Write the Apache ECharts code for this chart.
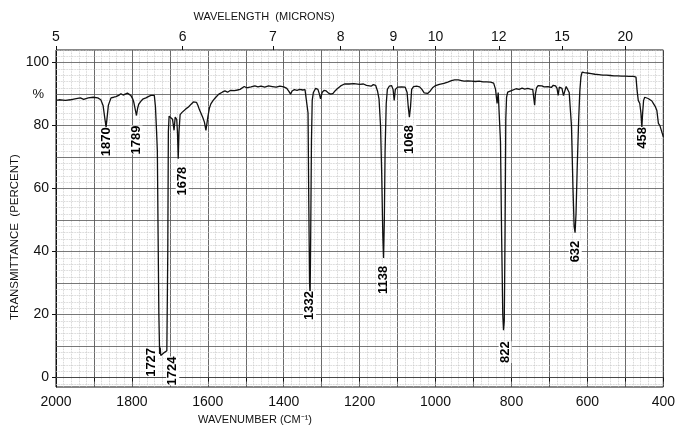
<!DOCTYPE html>
<html><head><meta charset="utf-8">
<script src="https://cdn.jsdelivr.net/npm/echarts@6/dist/echarts.min.js"></script>
<style>html,body{margin:0;padding:0;background:#fff}#c{width:678px;height:426px}</style>
</head><body><div id="c"></div>
<script>
// ---- data ----
const wavenumber = [
2000,1992,1975,1962,1950,1936,1927,1915,1902,1890,1882,1876,1871,1868,1865,1862,1855,1848,1842,1835,
1829,1823,1818,1812,1807,1803,1798,1795,1791,1788,1785,1782,1776,1770,1763,1757,1750,1745,1741,1738,
1735,1733,1731,1729,1727,1725.5,1724,1720,1714,1708,1705.5,1704,1702,1697,1693,1689,1686,1682,1680,1678,
1676,1673,1668,1664,1658,1651,1644,1638,1634,1630,1626,1622,1618,1613,1609,1605,1603,1600,1596,1592,
1586,1579,1571,1562,1555,1548,1540,1530,1522,1515,1510,1504,1498,1493,1486,1476,1468,1460,1450,1440,
1430,1420,1410,1400,1392,1386,1382,1378,1372,1365,1358,1350,1344,1339,1336,1334,1332,1330.5,1329,1327,
1325,1322,1316,1310,1306,1303,1299,1294,1288,1282,1276,1270,1265,1259,1250,1240,1228,1215,1200,1190,
1182,1178,1170,1164,1158,1153,1149,1145,1142,1139,1137,1135,1133,1130,1127,1122,1116,1112,1109,1106,
1100,1090,1080,1075,1072,1069,1066,1063,1058,1050,1042,1036,1030,1026,1021,1014,1008,1000,990,978,
968,958,950,940,932,925,915,905,895,885,875,865,855,847,842,838,835,832,829,826,
823,821,819,817,815,813,810,805,800,795,788,780,772,765,757,750,744,741,739,737,
734,730,725,720,714,710,704,700,695,690,684,680,677,674,670,667,663,660,656,652,
648,645,642,638,635,632.5,630,627,623,620,617,614,608,600,590,580,570,560,550,540,
530,520,510,500,490,478,472,469,466,462,459,456.5,454.5,452,449,445,440,435,430,426,
421,417,413,409,404,400];
const transmittance = [
88.0,88.2,88.0,88.2,88.5,88.8,88.3,88.8,89.0,88.8,88.2,86.4,82,79.5,83,86.5,88.8,89.0,89.2,89.6,
90.1,89.7,90.3,90.3,89.8,89.6,88.5,87.4,85,83.2,85.5,86.8,87.8,88.5,88.8,89.2,89.6,90.1,89.6,86,
78,72,45,20,7.5,9.5,7,7.5,8,8.5,40,78,83,83.2,82,78.5,82.7,82,78,69.5,
78,83.5,84.2,84.8,85.3,85.9,86.8,87.5,88,87.4,86.4,85,83.9,82.5,81.1,78.5,79,82.7,85.5,86.9,
88,89,90,90.6,91,90.6,91.2,91.1,91.3,91.5,91.7,92.4,92.0,92.6,92.3,92.6,92.3,92.5,92.2,92.6,
92.4,92.2,92.5,92.3,91.8,90.8,90,91,91.4,91.2,91.5,91.3,91.4,91,84,55,30,26,45,75,
88,90.5,91.8,91.5,90,88.5,90.5,91.2,91,90.3,90,90.2,91,91.7,92.6,93.2,93.2,93.3,93.1,93.2,
92.8,92.4,92.5,93,92.8,91,88.5,80,65,45,38,50,72,87,91.5,92.5,92.7,91.5,88,91.5,
92.2,92.3,92.2,90.5,86,82.7,86,91.5,92.4,92.5,92.3,91.5,90.4,90,90.2,91,92,92.7,93.1,93.4,
93.8,94.3,94.5,94.5,94.3,94.1,94.2,94.1,94.0,94.1,93.9,93.9,93.8,93.5,91.5,87,90.5,90,75,45,
20,15,18,45,82,89,90.6,91,91.1,91.5,91.7,91.5,91.9,91.6,91.8,91.6,91.5,88.5,86.5,90,
92,92.7,92.3,92.6,92.3,92.9,92.4,92.7,92.1,92.8,92.6,91.8,89.6,92.2,91.6,91.8,89.5,90.8,92.4,92.2,
90.5,90,80,60,48,46,52,66,82,91,95.5,97,96.8,96.7,96.5,96.3,96.2,96,96,95.9,
95.8,95.8,95.7,95.7,95.6,95.6,95.4,91,88,87,84,79.5,84,88,89,88.9,88.6,88.5,87.8,87,
86,84.8,80.7,80,78,76.4];
const peakLabels = [1870, 1789, 1727, 1724, 1678, 1332, 1138, 1068, 822, 632, 458];
const wavenumberLabels = [2000, 1800, 1600, 1400, 1200, 1000, 800, 600, 400];
const micronLabels = [5, 6, 7, 8, 9, 10, 12, 15, 20];
const percentLabels = [0, 20, 40, 60, 80, 100];

// ---- chart ----
const FONT = '"Liberation Sans", Arial, sans-serif';
const points = wavenumber.map((w, i) => [w, transmittance[i]]);
const hLines = [];
for (let v = -2; v <= 104; v += 2) {
  const major = v % 10 === 0 && v >= 0 && v <= 100;
  hLines.push({ yAxis: v, lineStyle: major
    ? { color: '#555', width: 0.8, type: 'solid' }
    : { color: '#c4c4c4', width: 0.8, type: 'dotted' } });
}
const yLabelValues = percentLabels.concat([90]);

const chart = echarts.init(document.getElementById('c'), null, { renderer: 'canvas' });
chart.setOption({
  animation: false,
  backgroundColor: '#fff',
  grid: { left: 56, right: 10, top: 50, bottom: 39, show: true, borderColor: '#111', borderWidth: 1, backgroundColor: 'transparent' },
  xAxis: [{
    type: 'value', min: 400, max: 2000, interval: 100, inverse: true, position: 'bottom',
    axisLine: { show: true, lineStyle: { color: '#111', width: 1 } },
    axisTick: { show: true, length: 4, lineStyle: { color: '#111' } },
    minorTick: { show: false, splitNumber: 5 },
    axisLabel: { margin: 8, color: '#111', fontSize: 14, fontFamily: FONT,
      formatter: v => (wavenumberLabels.indexOf(v) >= 0 ? String(v) : '') },
    splitLine: { show: true, lineStyle: { color: '#444', width: 0.8 } },
    minorSplitLine: { show: true, lineStyle: { color: '#c4c4c4', width: 0.8, type: 'dotted' } }
  }, {
    type: 'value', min: 400, max: 2000, inverse: true, position: 'top',
    axisLine: { show: false },
    axisTick: { show: true, length: 4, inside: false, customValues: micronLabels.map(m => 10000 / m), lineStyle: { color: '#111' } },
    axisLabel: { show: true, margin: 6, color: '#111', fontSize: 14, fontFamily: FONT,
      customValues: micronLabels.map(m => 10000 / m), formatter: v => String(Math.round(10000 / v)) },
    splitLine: { show: false }
  }],
  yAxis: {
    type: 'value', min: -3, max: 104,
    axisLine: { show: true, lineStyle: { color: '#111', width: 1 } },
    axisTick: { show: true, length: 4, customValues: percentLabels, lineStyle: { color: '#111' } },
    axisLabel: { margin: 7, color: '#111', fontSize: 14, fontFamily: FONT, customValues: yLabelValues,
      formatter: v => (v === 90 ? '{p|%}' : String(v)),
      rich: { p: { fontSize: 13, fontFamily: FONT, color: '#111', padding: [0, 5, 0, 0] } } },
    splitLine: { show: false }
  },
  series: [{
    type: 'line', data: points, xAxisIndex: 0, yAxisIndex: 0, z: 3,
    showSymbol: false, symbol: 'none', smooth: false, clip: true,
    lineStyle: { color: '#111', width: 1.3 },
    markLine: { silent: true, z: 1, symbol: ['none', 'none'], label: { show: false }, animation: false, data: hLines }
  }]
});

// ---- titles and peak labels ----
const labelGap = 8;
const labelShift = { 1870: [1, 0], 1789: [0, 2], 1727: [-8, -14], 1724: [12, -7], 1678: [4, 0], 822: [2, 3], 458: [1, 6] };
const graphics = [
  { type: 'text', x: 264, y: 17, style: { text: 'WAVELENGTH  (MICRONS)', font: '11px ' + FONT, fill: '#111', align: 'center', verticalAlign: 'middle' } },
  { type: 'text', x: 255, y: 420, style: { text: 'WAVENUMBER (CM⁻¹)', font: '11px ' + FONT, fill: '#111', align: 'center', verticalAlign: 'middle' } },
  { type: 'text', x: 15, y: 237, rotation: Math.PI / 2, style: { text: 'TRANSMITTANCE  (PERCENT)', font: '11.5px ' + FONT, fill: '#111', align: 'center', verticalAlign: 'middle' } }
];
peakLabels.forEach(p => {
  let tmin = Infinity;
  wavenumber.forEach((w, i) => { if (Math.abs(w - p) <= 1.2) tmin = Math.min(tmin, transmittance[i]); });
  if (!isFinite(tmin)) wavenumber.forEach((w, i) => { if (Math.abs(w - p) <= 4) tmin = Math.min(tmin, transmittance[i]); });
  const pt = chart.convertToPixel({ seriesIndex: 0 }, [p, tmin]);
  const sh = labelShift[p] || [0, 0];
  graphics.push({ type: 'text', x: pt[0] + sh[0], y: pt[1] + labelGap + sh[1], rotation: Math.PI / 2, z: 10,
    style: { text: String(p), font: 'bold 13px ' + FONT, fill: '#000', align: 'right', verticalAlign: 'middle', backgroundColor: '#fff' } });
});
chart.setOption({ graphic: graphics });
</script></body></html>
